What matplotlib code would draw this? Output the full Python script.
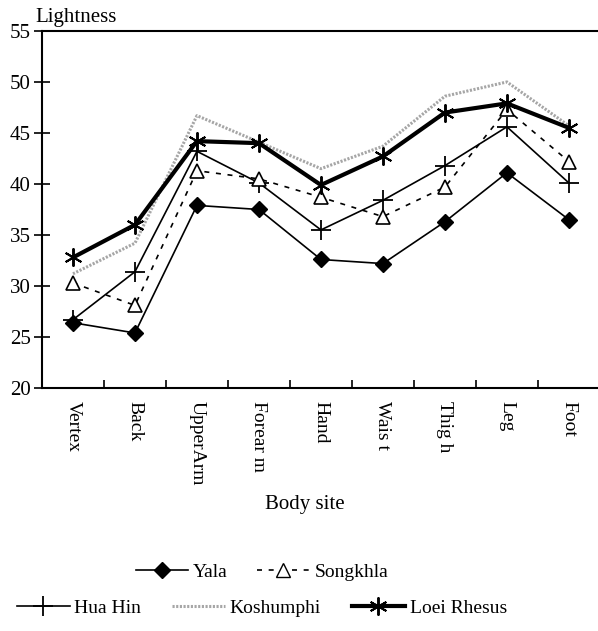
import matplotlib.pyplot as plt
from matplotlib.lines import Line2D
import numpy as np

plt.rcParams['font.family'] = ['Liberation Serif', 'DejaVu Serif']

# body sites along the x axis
sites = ["Vertex", "Back", "UpperArm", "Forear m", "Hand", "Wais t", "Thig h", "Leg", "Foot"]

# lightness per population
yala = [26.4, 25.4, 37.9, 37.5, 32.6, 32.2, 36.3, 41.1, 36.5]
songkhla = [30.3, 28.1, 41.3, 40.5, 38.7, 36.8, 39.7, 47.3, 42.2]
huahin = [26.7, 31.4, 43.2, 40.1, 35.5, 38.4, 41.8, 45.6, 40.1]
koshumphi = [31.2, 34.2, 46.7, 44.1, 41.5, 43.7, 48.6, 50.0, 45.7]
loei = [32.8, 36.0, 44.2, 44.0, 39.9, 42.7, 47.0, 47.9, 45.5]

fig = plt.figure(figsize=(5.98, 6.31), dpi=100)
ax = fig.add_axes([0.0702, 0.385, 0.933, 0.566])
x = np.arange(len(sites))

kosh_style = dict(color='0.65', lw=2.2, ls=(0, (0.7, 0.5)))
ax.plot(x, koshumphi, zorder=2, **kosh_style)
ax.plot(x, yala, color='k', lw=1.2, marker='D', ms=8.5, mfc='k', zorder=3)
ax.plot(x, huahin, color='k', lw=1.2, marker='+', ms=14, mew=1.3, zorder=3)
ax.plot(x, songkhla, color='k', lw=1.2, ls=(0, (3, 4)), marker='^', ms=10,
        mfc='white', mew=1.2, zorder=4)
ax.plot(x, loei, color='k', lw=3, marker=(6, 2, 0), ms=13, mew=1.4, zorder=5)

ax.set_xlim(-0.5, len(sites) - 0.5)
ax.set_ylim(20, 55)
ax.set_yticks(np.arange(20, 56, 5))
ax.tick_params(axis='y', direction='inout', length=12, width=1.2, pad=2, labelsize=15)

# ticks between the categories, labels under the centres
ax.set_xticks(np.arange(0.5, len(sites) - 1, 1))
ax.set_xticklabels([])
ax.tick_params(axis='x', which='major', direction='in', length=6, width=1.2)
ax.set_xticks(x, minor=True)
ax.set_xticklabels(sites, minor=True, rotation=-90, fontsize=14, va='top', ha='center')
ax.tick_params(axis='x', which='minor', length=0, pad=9)

for s in ['left', 'bottom', 'top']:
    ax.spines[s].set_linewidth(1.5)
ax.spines['right'].set_visible(False)

fig.text(35 / 598, 1 - 27 / 631, "Lightness", fontsize=15, ha='left', va='bottom')
fig.text(305 / 598, 1 - 505 / 631, "Body site", fontsize=15, ha='center', va='center')

# two legend rows
h1 = [Line2D([], [], color='k', lw=1.2, marker='D', ms=8.5),
      Line2D([], [], color='k', lw=1.2, ls=(0, (3, 4)), marker='^', ms=10, mfc='white')]
h2 = [Line2D([], [], color='k', lw=1.2, marker='+', ms=14, mew=1.3),
      Line2D([], [], **kosh_style),
      Line2D([], [], color='k', lw=3, marker=(6, 2, 0), ms=13, mew=1.4)]
fig.legend(h1, ["Yala", "Songkhla"], ncol=2, loc='center', bbox_to_anchor=(0.438, 1 - 572 / 631),
           frameon=False, fontsize=14, handlelength=2.7, handletextpad=0.25, columnspacing=1.5)
fig.legend(h2, ["Hua Hin", "Koshumphi", "Loei Rhesus"], ncol=3, loc='center',
           bbox_to_anchor=(0.438, 1 - 608 / 631), frameon=False, fontsize=14,
           handlelength=2.7, handletextpad=0.25, columnspacing=1.6)

fig.savefig('out.png', dpi=100)
